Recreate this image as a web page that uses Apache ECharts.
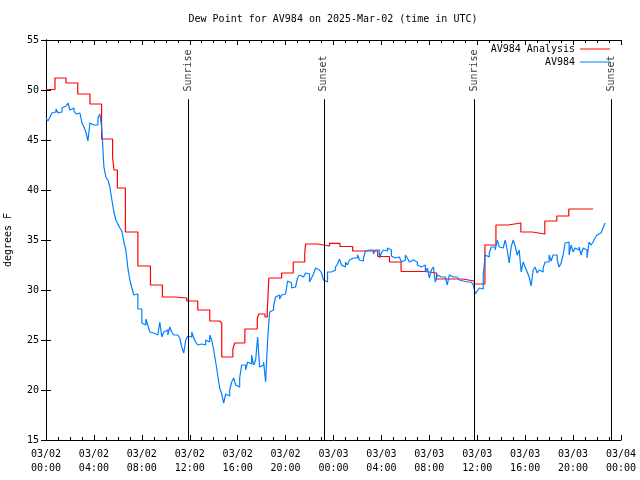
<!DOCTYPE html>
<html><head><meta charset="utf-8">
<script src="https://cdn.jsdelivr.net/npm/echarts@6/dist/echarts.min.js"></script>
<style>html,body{margin:0;padding:0;background:#fff}#c{width:640px;height:480px}</style>
</head><body><div id="c"></div>
<script>
const titleText = 'Dew Point for AV984 on 2025-Mar-02 (time in UTC)';
const yAxisName = 'degrees F';
const xTickLabels = ['03/02\n00:00','03/02\n04:00','03/02\n08:00','03/02\n12:00','03/02\n16:00','03/02\n20:00',
  '03/03\n00:00','03/03\n04:00','03/03\n08:00','03/03\n12:00','03/03\n16:00','03/03\n20:00','03/04\n00:00'];
const seriesNames = ['AV984 Analysis', 'AV984'];

// Analysis (step) series: hours since 03/02 00:00 UTC and dew point (F)
const redHours = [0,0.75,1.67,2.65,3.67,4.64,5.56,5.67,5.96,6.63,7.67,8.72,9.72,10.75,11.75,12.67,13.67,14.5,14.67,15.6,15.75,16.6,17.64,17.78,18.28,18.47,18.6,19.67,20.64,21.6,21.67,22.64,23.67,24.54,25.6,27.69,28.67,29.64,31.67,32.6,34.78,35.75,36.64,37.56,38.58,39.64,40.6,41.64,42.64,43.64,44.64,45.67];
const redValues = [50.05,51.2,50.7,49.6,48.6,45.1,43.3,42.0,40.2,35.8,32.4,30.5,29.3,29.2,28.9,28.0,26.9,26.7,23.3,24.1,24.7,26.1,27.2,27.6,27.3,27.8,31.2,31.7,32.8,33.7,34.6,34.4,34.67,34.35,33.9,33.35,32.8,31.85,31.7,31.1,30.9,30.6,34.5,36.5,36.7,35.8,35.6,36.9,37.4,38.1,38.1,38.1];

// Observed series: one value every 10 minutes from 03/02 00:00 UTC
const blueStepMinutes = 10;
const blueValues = [
 47.2,46.9,47.3,47.7,47.8,48.1, 47.7,47.8,48.2,48.4,48.4,48.7, 48.0,48.2,47.9,47.6,47.7,47.5,
 46.7,46.3,45.8,44.9,46.7,46.5, 46.7,46.5,47.2,47.6,46.0,42.3, 41.3,41.0,40.3,39.0,37.8,37.0,
 36.6,36.2,35.9,34.8,34.0,32.2, 31.0,30.2,29.5,29.6,28.1,28.1, 26.7,26.5,27.1,26.5,25.8,25.7,
 25.8,25.5,25.6,26.8,25.3,25.8, 26.0,25.5,26.3,25.8,25.5,25.5, 25.7,25.2,24.3,23.7,25.0,25.4,
 25.3,25.8,25.2,24.8,24.5,24.6, 24.8,24.5,25.0,24.8,25.5,25.0, 24.0,22.8,21.5,20.2,19.6,18.7,
 19.6,19.4,20.0,20.8,21.2,20.5, 20.3,21.2,22.5,22.5,22.0,22.8, 22.6,23.5,22.5,23.0,25.3,22.3,
 22.5,22.8,20.8,25.0,27.8,28.0, 28.4,29.3,29.5,29.1,29.5,29.6, 29.8,30.9,30.7,30.2,30.3,30.5,
 31.2,31.5,31.3,31.2,31.7,31.6, 30.8,31.2,31.6,32.2,32.0,32.0, 31.7,31.0,30.8,31.8,31.8,31.9,
 32.0,32.3,32.6,33.1,32.5,32.3, 32.8,32.5,33.0,33.2,33.3,33.2, 33.5,33.0,32.9,33.2,33.9,34.0,
 33.8,34.0,33.6,34.0,34.0,33.2, 33.7,34.0,33.9,34.2,34.0,33.4, 33.2,33.0,33.3,33.2,32.8,33.0,
 33.5,33.2,32.8,33.0,33.0,32.8, 32.5,32.3,32.5,32.5,31.8,32.2, 31.2,32.0,32.3,30.8,31.5,31.3,
 31.3,31.3,31.2,30.5,31.5,31.3, 31.5,31.3,31.2,31.0,30.9,31.0, 30.8,31.0,30.8,30.8,30.5,29.6,
 29.9,30.2,30.1,31.5,33.5,33.3, 33.7,34.3,34.3,34.0,35.0,34.3, 34.2,34.2,35.0,34.0,32.7,34.3,
 35.0,34.4,33.5,34.0,31.8,32.8, 32.3,31.8,31.3,30.4,32.0,32.3, 31.7,32.0,31.8,32.2,32.8,32.8,
 33.5,32.9,33.5,33.5,33.0,32.3, 32.7,33.5,34.7,34.8,33.5,34.5, 33.8,34.2,34.0,34.3,33.5,34.2,
 34.0,33.2,34.8,34.5,34.8,35.2, 35.5,35.7,35.9,36.2,36.7
];

const eventNames = ['Sunrise','Sunset','Sunrise','Sunset'];
const eventHours = [11.86, 23.19, 35.79, 47.19];

const FONT = 'DejaVu Sans Mono';
const redData = redHours.map((h, i) => [h, redValues[i]]);
const blueData = blueValues.map((v, i) => [i * blueStepMinutes / 60, v]);
const Y_MIN = 15, Y_MAX = 55, LINE_TOP = 49.07, LABEL_BASE = 49.85;

const tickStyle = {inside: true, length: 5, lineStyle: {color: '#000', width: 1}};
const minorX = {show: true, splitNumber: 4, length: 3, lineStyle: {color: '#000', width: 1}};
const axisLine = {show: true, lineStyle: {color: '#000', width: 1}};
const txt = {fontFamily: FONT, fontSize: 10, color: '#000'};

const chart = echarts.init(document.getElementById('c'));
chart.setOption({
  animation: false,
  backgroundColor: '#fff',
  textStyle: {fontFamily: FONT},
  title: {text: titleText, left: 333, top: 14, textAlign: 'center', padding: 0,
    textStyle: Object.assign({fontWeight: 'normal'}, txt)},
  legend: [
    {data: [seriesNames[0]], right: 30, top: 44, padding: 0, align: 'right', icon: 'rect',
      itemWidth: 30, itemHeight: 1, selectedMode: false, textStyle: txt},
    {data: [seriesNames[1]], right: 30, top: 57, padding: 0, align: 'right', icon: 'rect',
      itemWidth: 30, itemHeight: 1, selectedMode: false, textStyle: txt}
  ],
  grid: {left: 46, top: 40, width: 575, height: 400, containLabel: false, outerBoundsMode: 'none'},
  xAxis: [
    {type: 'value', min: 0, max: 48, interval: 4, position: 'bottom', axisLine, axisTick: tickStyle,
      minorTick: minorX, splitLine: {show: false},
      axisLabel: Object.assign({formatter: v => xTickLabels[Math.round(v / 4)], lineHeight: 14, margin: 7}, txt)},
    {type: 'value', min: 0, max: 48, interval: 4, position: 'top', axisLine, axisTick: tickStyle,
      minorTick: minorX, splitLine: {show: false}, axisLabel: {show: false}}
  ],
  yAxis: [
    {type: 'value', min: Y_MIN, max: Y_MAX, interval: 5, position: 'left', axisLine, axisTick: tickStyle,
      splitLine: {show: false}, axisLabel: Object.assign({margin: 7}, txt),
      name: yAxisName, nameLocation: 'middle', nameGap: 33, nameRotate: 90, nameTextStyle: txt},
    {type: 'value', min: Y_MIN, max: Y_MAX, interval: 5, position: 'right', axisLine, axisTick: tickStyle,
      splitLine: {show: false}, axisLabel: {show: false}}
  ],
  series: [
    {name: seriesNames[0], type: 'line', step: 'end', data: redData, symbol: 'none', showSymbol: false,
      lineStyle: {color: '#ff0000', width: 1.2}, itemStyle: {color: '#ff0000'}, z: 2},
    {name: seriesNames[1], type: 'line', step: 'end', data: blueData, symbol: 'none', showSymbol: false,
      lineStyle: {color: '#0080ff', width: 1.2}, itemStyle: {color: '#0080ff'}, z: 3},
    {type: 'scatter', data: eventHours.map(h => [h, LABEL_BASE]), symbolSize: 0, silent: true, z: 4,
      label: Object.assign({show: true, formatter: p => eventNames[p.dataIndex], position: [0, 0],
        rotate: 90, align: 'left', verticalAlign: 'middle'}, txt),
      markLine: {silent: true, symbol: ['none', 'none'], label: {show: false},
        lineStyle: {color: '#000', width: 1, type: 'solid'},
        data: eventHours.map(h => [{coord: [h, Y_MIN]}, {coord: [h, LINE_TOP]}])}}
  ]
});
</script>
</body></html>
